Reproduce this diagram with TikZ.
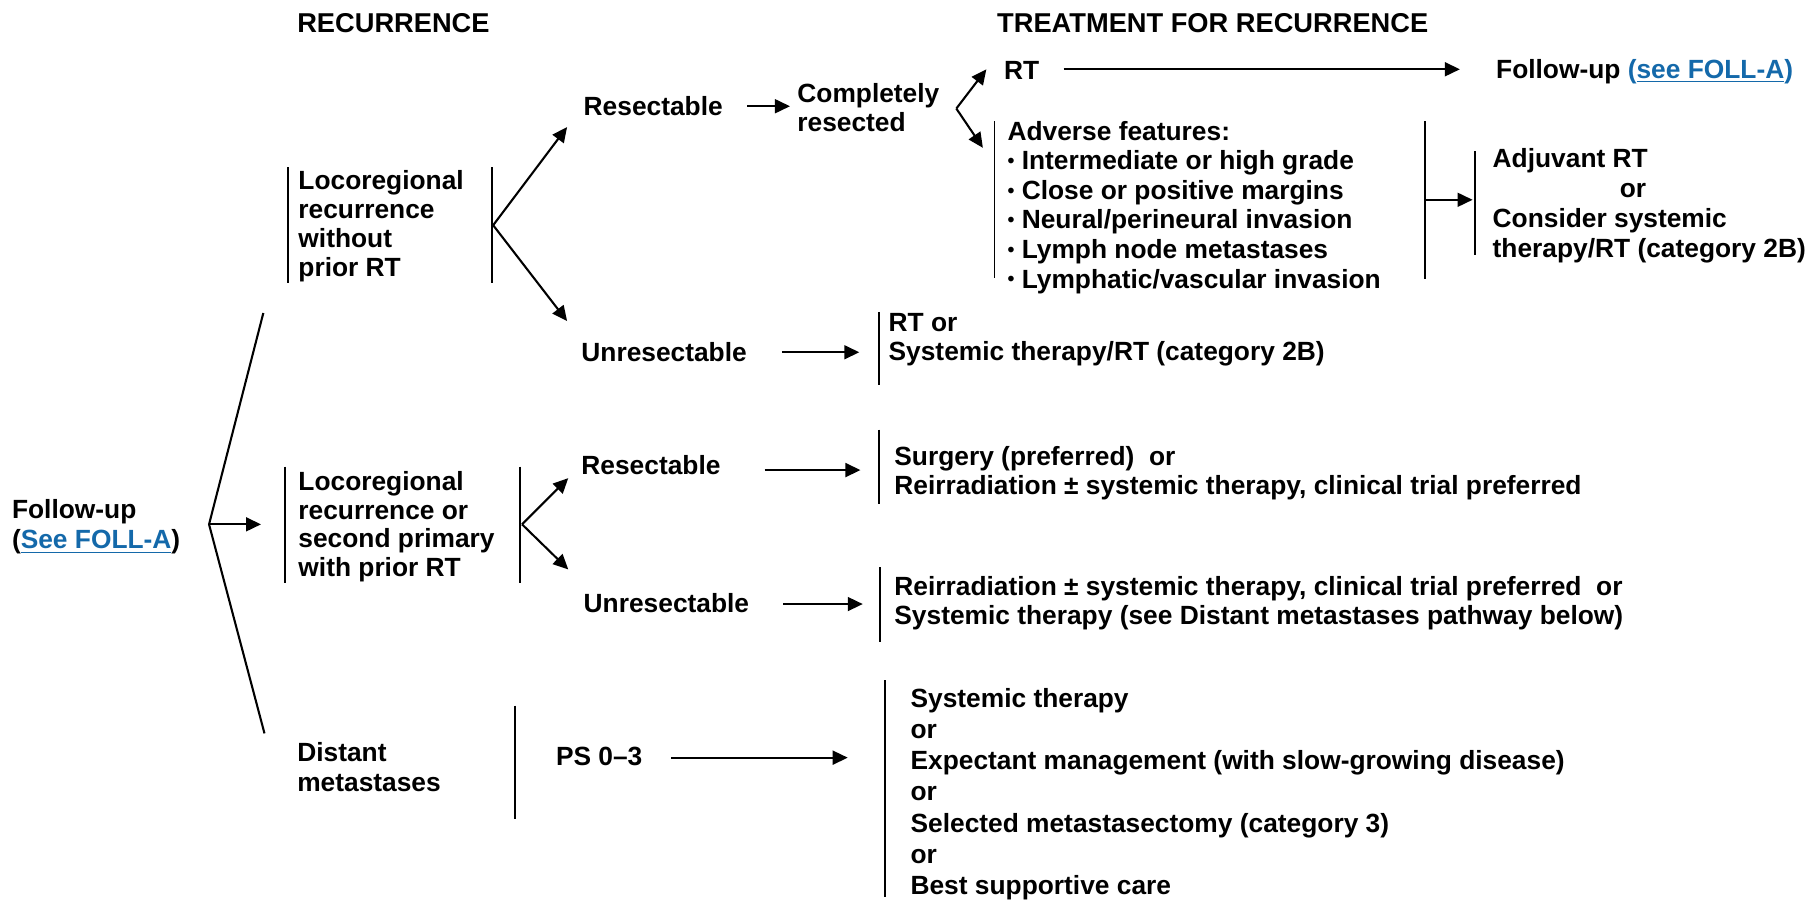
\documentclass[tikz,border=0pt]{standalone}
\usepackage{fontspec}
\setmainfont{Liberation Sans}
\usetikzlibrary{arrows.meta}
\definecolor{linkblue}{RGB}{20,105,170}
\newcommand{\lnk}[1]{\textcolor{linkblue}{#1}}
\newcommand{\bul}{\raisebox{0.15ex}{\fontsize{8.5}{8.5}\selectfont\textbullet}\ }
\begin{document}
\begin{tikzpicture}[x=0.5pt,y=-0.5pt,
  txt/.style={anchor=west, inner sep=0pt, align=left, font=\fontsize{11.4}{#1}\selectfont\bfseries},
  txt/.default=12.5,
  hdr/.style={anchor=west, inner sep=0pt, font=\fontsize{11.8}{14}\selectfont\bfseries},
  arr/.style={-{Triangle[length=6.5pt,width=6pt]}, line width=0.9pt},
  bar/.style={line width=0.8pt},
  brk/.style={line width=0.9pt}]
\useasboundingbox (0,0) rectangle (1568,779);

% headers
\node[hdr] (hrec) at (257,20) {RECURRENCE};
\node[hdr] (htr) at (863,20) {TREATMENT FOR RECURRENCE};

% left column
\node[txt=13.25] (fu) at (10,456) {Follow-up\\(\lnk{\underline{See FOLL-A}})};
\node[txt] (loc1) at (258,196) {Locoregional\\recurrence\\without\\prior RT};
\node[txt] (loc2) at (258,456) {Locoregional\\recurrence or\\second primary\\with prior RT};
\node[txt=13] (dist) at (257,664) {Distant\\metastases};

% middle column
\node[txt] (res1) at (505,92) {Resectable};
\node[txt] (comp) at (690,93) {Completely\\resected};
\node[txt] (unres1) at (503,305) {Unresectable};
\node[txt] (res2) at (503,403) {Resectable};
\node[txt] (unres2) at (505,522) {Unresectable};
\node[txt] (ps) at (481,655) {PS 0--3};

% right column
\node[txt] (rt) at (869,61) {RT};
\node[txt] (fu2) at (1295,62) {Follow-up \lnk{(\underline{see FOLL-A})}};
\node[txt=12.8] (adv) at (872,179.5) {Adverse features:\\
  \bul Intermediate or high grade\\
  \bul Close or positive margins\\
  \bul Neural/perineural invasion\\
  \bul Lymph node metastases\\
  \bul Lymphatic/vascular invasion};
\node[txt=13] (adj) at (1292,178.5) {Adjuvant RT\\\hspace*{55pt}or\\Consider systemic\\therapy/RT (category 2B)};
\node[txt] (unres1t) at (769,294) {RT or\\Systemic therapy/RT (category 2B)};
\node[txt] (res2t) at (774,410) {Surgery (preferred)\ \ or\\Reirradiation ± systemic therapy, clinical trial preferred};
\node[txt] (unres2t) at (774,522) {Reirradiation ± systemic therapy, clinical trial preferred\ \ or\\Systemic therapy (see Distant metastases pathway below)};
\node[txt=13.5] (distt) at (788,687.5) {Systemic therapy\\or\\Expectant management (with slow-growing disease)\\or\\Selected metastasectomy (category 3)\\or\\Best supportive care};

% big bracket from follow-up
\coordinate (bT) at (228,271);
\coordinate (bV) at (181,454);
\coordinate (bB) at (229,635);
\coordinate (bA) at (226,454);
\draw[brk] (bT) -- (bV) -- (bB);
\draw[arr] (bV) -- (bA);

% locoregional without prior RT
\draw[bar] (249,145) -- (249,245);
\draw[bar] (426,145) -- (426,245);
\coordinate (f1) at (427,195);
\coordinate (f1a) at (491,110);
\coordinate (f1b) at (491,278);
\draw[arr] (f1) -- (f1a);
\draw[arr] (f1) -- (f1b);

% resectable -> completely resected
\coordinate (r1s) at (647,92);
\coordinate (r1e) at (684,92);
\draw[arr] (r1s) -- (r1e);

% completely resected fork
\coordinate (f2) at (828,94);
\coordinate (f2a) at (854,60);
\coordinate (f2b) at (851,128);
\draw[arr] (f2) -- (f2a);
\draw[arr] (f2) -- (f2b);

% RT -> follow-up
\coordinate (rts) at (921,60);
\coordinate (rte) at (1264,60);
\draw[arr] (rts) -- (rte);

% adverse features
\draw[bar] (861,105) -- (861,241);
\draw[bar] (1234,105) -- (1234,242);
\coordinate (ads) at (1234,173);
\coordinate (ade) at (1275,173);
\draw[arr] (ads) -- (ade);
\draw[bar] (1277,131) -- (1277,221);

% unresectable (no prior RT)
\coordinate (u1s) at (677,305);
\coordinate (u1e) at (744,305);
\draw[arr] (u1s) -- (u1e);
\draw[bar] (761,270) -- (761,333);

% locoregional with prior RT
\draw[bar] (247,404) -- (247,505);
\draw[bar] (450,404) -- (450,505);
\coordinate (f3) at (452,454);
\coordinate (f3a) at (492,414);
\coordinate (f3b) at (492,493);
\draw[arr] (f3) -- (f3a);
\draw[arr] (f3) -- (f3b);

% resectable (prior RT)
\coordinate (r2s) at (662,407);
\coordinate (r2e) at (745,407);
\draw[arr] (r2s) -- (r2e);
\draw[bar] (761,372) -- (761,436);

% unresectable (prior RT)
\coordinate (u2s) at (678,523);
\coordinate (u2e) at (747,523);
\draw[arr] (u2s) -- (u2e);
\draw[bar] (762,491) -- (762,556);

% distant metastases
\draw[bar] (446,611) -- (446,709);
\coordinate (pss) at (581,656);
\coordinate (pse) at (734,656);
\draw[arr] (pss) -- (pse);
\draw[bar] (766,589) -- (766,777);
\end{tikzpicture}
\end{document}
